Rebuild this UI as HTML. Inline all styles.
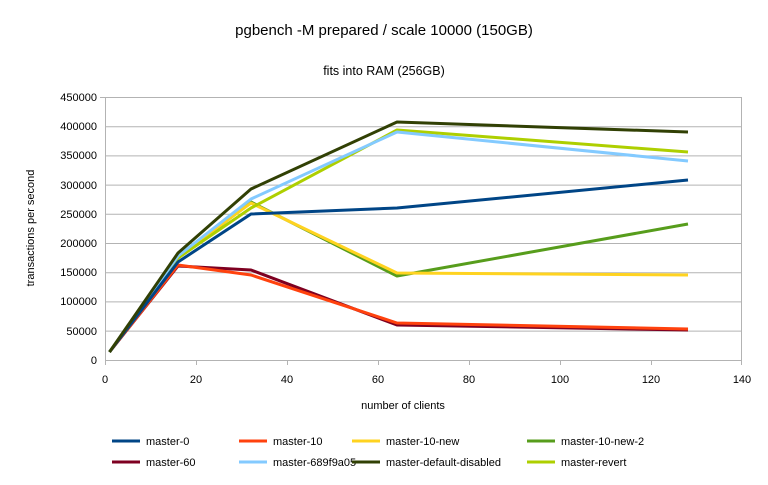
<!DOCTYPE html>
<html><head><style>body{margin:0;background:#fff}</style></head><body>
<svg width="768" height="480" xmlns="http://www.w3.org/2000/svg" font-family="Liberation Sans, sans-serif">
<rect width="768" height="480" fill="#fff"/>
<text x="384" y="35" font-size="15" text-anchor="middle">pgbench -M prepared / scale 10000 (150GB)</text>
<text x="384" y="75" font-size="12.5" text-anchor="middle">fits into RAM (256GB)</text>
<g stroke="#b3b3b3" stroke-width="1">
<line x1="105" y1="97.5" x2="742" y2="97.5"/><line x1="105" y1="126.7" x2="742" y2="126.7"/><line x1="105" y1="155.9" x2="742" y2="155.9"/><line x1="105" y1="185.1" x2="742" y2="185.1"/><line x1="105" y1="214.3" x2="742" y2="214.3"/><line x1="105" y1="243.5" x2="742" y2="243.5"/><line x1="105" y1="272.7" x2="742" y2="272.7"/><line x1="105" y1="301.9" x2="742" y2="301.9"/><line x1="105" y1="331.1" x2="742" y2="331.1"/><line x1="105" y1="360.5" x2="742" y2="360.5"/>
<line x1="105.5" y1="97" x2="105.5" y2="365"/><line x1="741.5" y1="97" x2="741.5" y2="365"/>
<line x1="196.5" y1="360" x2="196.5" y2="365"/><line x1="287.5" y1="360" x2="287.5" y2="365"/><line x1="378.5" y1="360" x2="378.5" y2="365"/><line x1="469.5" y1="360" x2="469.5" y2="365"/><line x1="560.5" y1="360" x2="560.5" y2="365"/><line x1="651.5" y1="360" x2="651.5" y2="365"/>
<line x1="100" y1="97.5" x2="105" y2="97.5"/>
</g>
<g font-size="11" text-anchor="end">
<text x="97" y="101">450000</text><text x="97" y="130">400000</text><text x="97" y="159">350000</text><text x="97" y="189">300000</text><text x="97" y="218">250000</text><text x="97" y="247">200000</text><text x="97" y="276">150000</text><text x="97" y="305">100000</text><text x="97" y="335">50000</text><text x="97" y="364">0</text>
</g>
<g font-size="11" text-anchor="middle">
<text x="105" y="383">0</text><text x="196" y="383">20</text><text x="287" y="383">40</text><text x="378" y="383">60</text><text x="469" y="383">80</text><text x="560" y="383">100</text><text x="651" y="383">120</text><text x="742" y="383">140</text>
<text x="403" y="409">number of clients</text>
</g>
<text transform="translate(34 228) rotate(-90)" font-size="11" text-anchor="middle">transactions per second</text>
<g fill="none" stroke-width="3" stroke-linejoin="round">
<polyline stroke="#579d1c" points="109.5,352 178,258 251,202 397,276 688,224"/>
<polyline stroke="#ffd320" points="109.5,352 178,256 251,203 397,273 688,275"/>
<polyline stroke="#7e0021" points="109.5,352 178,266 251,270 397,325 688,330"/>
<polyline stroke="#ff420e" points="109.5,352 178,265 251,275 397,323 688,329"/>
<polyline stroke="#aecf00" points="109.5,352 178,258 251,208 397,130 688,152"/>
<polyline stroke="#83caff" points="109.5,352 178,256 251,199 397,132 688,161"/>
<polyline stroke="#004586" points="109.5,352 178,262 251,214 397,208 688,180"/>
<polyline stroke="#314004" points="109.5,352 178,253 251,189 397,122 688,132"/>
</g>
<g font-size="11">
<line x1="112" y1="441" x2="140" y2="441" stroke="#004586" stroke-width="3"/><text x="146" y="445">master-0</text>
<line x1="239" y1="441" x2="267" y2="441" stroke="#ff420e" stroke-width="3"/><text x="273" y="445">master-10</text>
<line x1="352" y1="441" x2="380" y2="441" stroke="#ffd320" stroke-width="3"/><text x="386" y="445">master-10-new</text>
<line x1="527" y1="441" x2="555" y2="441" stroke="#579d1c" stroke-width="3"/><text x="561" y="445">master-10-new-2</text>
<line x1="112" y1="462" x2="140" y2="462" stroke="#7e0021" stroke-width="3"/><text x="146" y="466">master-60</text>
<line x1="239" y1="462" x2="267" y2="462" stroke="#83caff" stroke-width="3"/><text x="273" y="466">master-689f9a05</text>
<line x1="352" y1="462" x2="380" y2="462" stroke="#314004" stroke-width="3"/><text x="386" y="466">master-default-disabled</text>
<line x1="527" y1="462" x2="555" y2="462" stroke="#aecf00" stroke-width="3"/><text x="561" y="466">master-revert</text>
</g>
</svg>
</body></html>
